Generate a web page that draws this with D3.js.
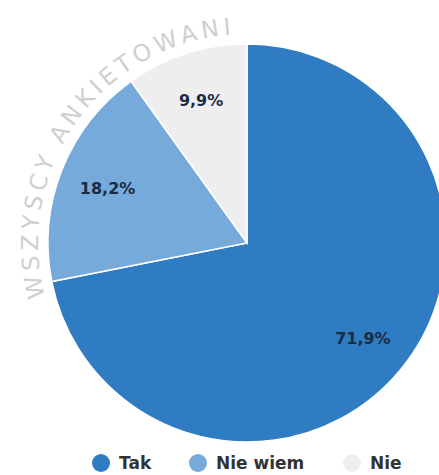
<!DOCTYPE html>
<html>
<head>
<meta charset="utf-8">
<script src="https://cdn.jsdelivr.net/npm/d3@7"></script>
<style>
  html, body { margin: 0; padding: 0; background: #ffffff; }
  svg { display: block; }
</style>
</head>
<body>
<svg id="chart" width="439" height="475"></svg>
<script>
// Survey answers (percent of all respondents)
const categories = ["Tak", "Nie wiem", "Nie"];
const values = [71.9, 18.2, 9.9];
const valueLabels = ["71,9%", "18,2%", "9,9%"];
const colors = ["#2f7cc3", "#76aadb", "#eeeeee"];
const arcTitle = "WSZYSCY ANKIETOWANI";

const svg = d3.select("#chart");
const cx = 247, cy = 243, radius = 199;

const pie = d3.pie().sort(null).value(d => d)(values);
const arc = d3.arc().innerRadius(0).outerRadius(radius);
const labelArc = d3.arc().innerRadius(150).outerRadius(150);

const g = svg.append("g").attr("transform", `translate(${cx},${cy})`);

g.selectAll("path.slice")
  .data(pie)
  .join("path")
  .attr("class", "slice")
  .attr("d", arc)
  .attr("fill", (d, i) => colors[i])
  .attr("stroke", "#ffffff")
  .attr("stroke-width", 1.5);

// Curved caption around the upper-left rim
const rText = 209;
const a0 = -105 * Math.PI / 180, a1 = 25 * Math.PI / 180;
const pt = a => [cx + rText * Math.sin(a), cy - rText * Math.cos(a)];
const [x0, y0] = pt(a0), [x1, y1] = pt(a1);
svg.append("defs").append("path")
  .attr("id", "captionArc")
  .attr("d", `M${x0},${y0} A${rText},${rText} 0 0 1 ${x1},${y1}`);

svg.append("text")
  .attr("font-family", "DejaVu Sans, sans-serif")
  .attr("font-size", 23.5)
  .attr("letter-spacing", 4.4)
  .attr("fill", "#cfcfcf")
  .append("textPath")
  .attr("href", "#captionArc")
  .text(arcTitle);

g.selectAll("text.value")
  .data(pie)
  .join("text")
  .attr("class", "value")
  .attr("transform", d => `translate(${labelArc.centroid(d)})`)
  .attr("text-anchor", "middle")
  .attr("dy", "0.36em")
  .attr("font-family", "DejaVu Sans, sans-serif")
  .attr("font-weight", "bold")
  .attr("font-size", 16)
  .attr("fill", "#1b2b45")
  .text((d, i) => valueLabels[i]);

// Legend
const legendX = [101, 198, 352];
const legend = svg.append("g").selectAll("g")
  .data(categories)
  .join("g")
  .attr("transform", (d, i) => `translate(${legendX[i]},463)`);

legend.append("circle")
  .attr("r", 9)
  .attr("fill", (d, i) => colors[i]);

legend.append("text")
  .attr("x", 18)
  .attr("dy", "0.36em")
  .attr("font-family", "DejaVu Sans, sans-serif")
  .attr("font-weight", "bold")
  .attr("font-size", 17)
  .attr("fill", "#333333")
  .text(d => d);
</script>
</body>
</html>
